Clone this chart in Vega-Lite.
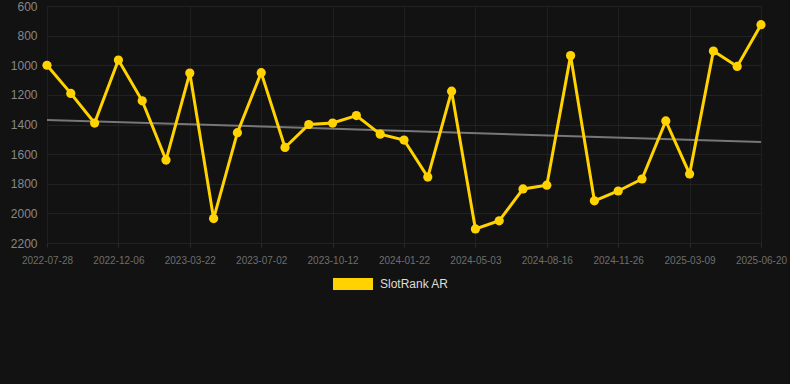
{
  "$schema": "https://vega.github.io/schema/vega-lite/v6.json",
  "autosize": {"type": "none"},
  "width": 714,
  "height": 237,
  "padding": {"left": 47, "top": 6, "right": 29, "bottom": 141},
  "background": "#121212",
  "config": {
    "view": {"stroke": null},
    "font": "Liberation Sans"
  },
  "datasets": {
    "rank": [
      {"date": "2022-07-28", "rank": 1000, "series": "SlotRank AR"},
      {"date": "2022-09-10", "rank": 1190, "series": "SlotRank AR"},
      {"date": "2022-10-24", "rank": 1390, "series": "SlotRank AR"},
      {"date": "2022-12-06", "rank": 965, "series": "SlotRank AR"},
      {"date": "2023-01-10", "rank": 1240, "series": "SlotRank AR"},
      {"date": "2023-02-15", "rank": 1640, "series": "SlotRank AR"},
      {"date": "2023-03-22", "rank": 1053, "series": "SlotRank AR"},
      {"date": "2023-04-26", "rank": 2035, "series": "SlotRank AR"},
      {"date": "2023-05-29", "rank": 1455, "series": "SlotRank AR"},
      {"date": "2023-07-02", "rank": 1050, "series": "SlotRank AR"},
      {"date": "2023-08-05", "rank": 1555, "series": "SlotRank AR"},
      {"date": "2023-09-08", "rank": 1400, "series": "SlotRank AR"},
      {"date": "2023-10-12", "rank": 1390, "series": "SlotRank AR"},
      {"date": "2023-11-15", "rank": 1340, "series": "SlotRank AR"},
      {"date": "2023-12-19", "rank": 1465, "series": "SlotRank AR"},
      {"date": "2024-01-22", "rank": 1505, "series": "SlotRank AR"},
      {"date": "2024-02-25", "rank": 1755, "series": "SlotRank AR"},
      {"date": "2024-03-30", "rank": 1175, "series": "SlotRank AR"},
      {"date": "2024-05-03", "rank": 2105, "series": "SlotRank AR"},
      {"date": "2024-06-07", "rank": 2050, "series": "SlotRank AR"},
      {"date": "2024-07-12", "rank": 1835, "series": "SlotRank AR"},
      {"date": "2024-08-16", "rank": 1810, "series": "SlotRank AR"},
      {"date": "2024-09-19", "rank": 935, "series": "SlotRank AR"},
      {"date": "2024-10-23", "rank": 1915, "series": "SlotRank AR"},
      {"date": "2024-11-26", "rank": 1849, "series": "SlotRank AR"},
      {"date": "2024-12-30", "rank": 1768, "series": "SlotRank AR"},
      {"date": "2025-02-02", "rank": 1376, "series": "SlotRank AR"},
      {"date": "2025-03-09", "rank": 1734, "series": "SlotRank AR"},
      {"date": "2025-04-12", "rank": 904, "series": "SlotRank AR"},
      {"date": "2025-05-16", "rank": 1008, "series": "SlotRank AR"},
      {"date": "2025-06-20", "rank": 726, "series": "SlotRank AR"}
    ],
    "trend": [
      {"date": "2022-07-28", "rank": 1369},
      {"date": "2025-06-20", "rank": 1518}
    ]
  },
  "encoding": {
    "x": {
      "field": "date", "type": "ordinal",
      "scale": {"type": "point", "padding": 0,
        "domain": ["2022-07-28","2022-09-10","2022-10-24","2022-12-06","2023-01-10","2023-02-15","2023-03-22","2023-04-26","2023-05-29","2023-07-02","2023-08-05","2023-09-08","2023-10-12","2023-11-15","2023-12-19","2024-01-22","2024-02-25","2024-03-30","2024-05-03","2024-06-07","2024-07-12","2024-08-16","2024-09-19","2024-10-23","2024-11-26","2024-12-30","2025-02-02","2025-03-09","2025-04-12","2025-05-16","2025-06-20"]},
      "axis": {
        "title": null,
        "values": ["2022-07-28","2022-12-06","2023-03-22","2023-07-02","2023-10-12","2024-01-22","2024-05-03","2024-08-16","2024-11-26","2025-03-09","2025-06-20"],
        "labelAngle": 0,
        "labelColor": "#6e6e6e",
        "labelFontSize": 10,
        "labelPadding": 8,
        "labelOverlap": false,
        "tickColor": "#2a2a2a",
        "tickSize": 4,
        "domain": false,
        "grid": true,
        "gridColor": "#1f1f1f",
        "gridWidth": 1
      }
    },
    "y": {
      "field": "rank", "type": "quantitative",
      "scale": {"domain": [600, 2200], "reverse": true, "nice": false, "zero": false},
      "axis": {
        "title": null,
        "values": [600, 800, 1000, 1200, 1400, 1600, 1800, 2000, 2200],
        "format": "d",
        "labelOverlap": false,
        "labelBound": false,
        "labelFlush": false,
        "labelColor": "#888888",
        "labelFontSize": 12,
        "labelPadding": 10,
        "ticks": false,
        "domain": false,
        "grid": true,
        "gridColor": "#222222",
        "gridWidth": 1
      }
    }
  },
  "layer": [
    {
      "data": {"name": "trend"},
      "mark": {"type": "line", "color": "#777777", "strokeWidth": 2}
    },
    {
      "data": {"name": "rank"},
      "mark": {"type": "line", "color": "#FFD200", "strokeWidth": 3}
    },
    {
      "data": {"name": "rank"},
      "mark": {"type": "point", "filled": true, "opacity": 1, "size": 85},
      "encoding": {
        "color": {
          "field": "series", "type": "nominal",
          "scale": {"domain": ["SlotRank AR"], "range": ["#FFD200"]},
          "legend": {
            "title": null,
            "orient": "none",
            "legendX": 286,
            "legendY": 258,
            "padding": 0,
            "symbolType": "M-1,-0.3H1V0.3H-1Z",
            "symbolSize": 1600,
            "symbolStrokeWidth": 0,
            "symbolOpacity": 1,
            "labelColor": "#dddddd",
            "labelFontSize": 12,
            "labelOffset": 7
          }
        }
      }
    }
  ]
}
